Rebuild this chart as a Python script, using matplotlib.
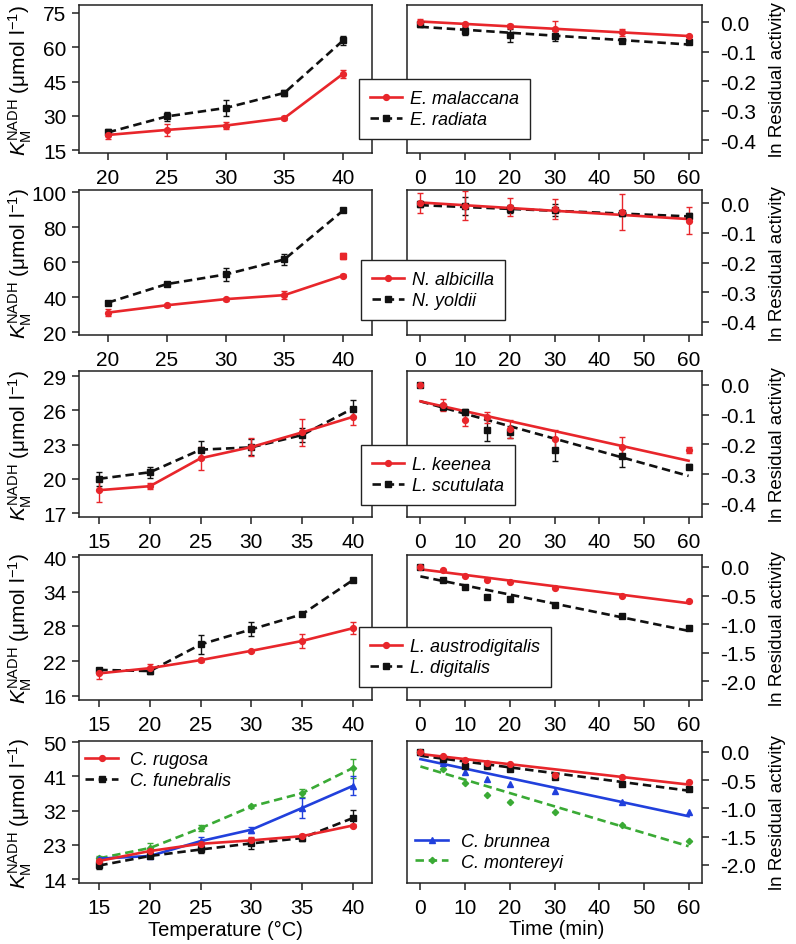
import numpy as np
import matplotlib
matplotlib.use("Agg")
import matplotlib.pyplot as plt
from matplotlib.lines import Line2D

plt.rcParams['font.family'] = ['Liberation Sans', 'DejaVu Sans']
plt.rcParams['mathtext.fontset'] = 'custom'
plt.rcParams['mathtext.rm'] = 'Liberation Sans'
plt.rcParams['mathtext.it'] = 'Liberation Sans:italic'
plt.rcParams['axes.unicode_minus'] = False

# ---------------- data ----------------
# Row 1: Echinolittorina
T1 = [20, 25, 30, 35, 40]
km_emal = [21.6, 23.8, 25.7, 29.0, 48.4]
km_emal_err = [1.8, 2.5, 1.5, 1.0, 1.8]
km_erad = [22.7, 29.7, 33.4, 40.0, 63.0]
km_erad_err = [1.5, 1.8, 3.5, 1.5, 1.8]
time1 = [0, 10, 20, 30, 45, 60]
ra_emal = [0.0, -0.007, -0.014, -0.025, -0.034, -0.047]
ra_emal_err = [0.012, 0.005, 0.006, 0.03, 0.012, 0.004]
ra_erad = [-0.008, -0.030, -0.045, -0.047, -0.063, -0.068]
ra_erad_err = [0.008, 0.015, 0.022, 0.018, 0.006, 0.006]
fit_emal = (0.002, -0.00082)   # intercept, slope
fit_erad = (-0.016, -0.00100)

# Row 2: Nerita
T2 = [20, 25, 30, 35, 40]
km_nalb = [31.1, 35.3, 38.8, 41.1, 52.3]
km_nalb_err = [2.0, 0.8, 0.8, 2.5, 0.8]
km_nalb_extra_T = [40]
km_nalb_extra = [63.4]
km_nalb_extra_err = [1.5]
km_nyol = [36.8, 47.4, 52.9, 61.5, 89.5]
km_nyol_err = [0.8, 1.2, 3.5, 3.0, 1.0]
time2 = [0, 10, 20, 30, 45, 60]
ra_nalb = [0.0, -0.009, -0.013, -0.020, -0.029, -0.059]
ra_nalb_err = [0.035, 0.048, 0.030, 0.033, 0.060, 0.045]
ra_nyol = [-0.003, -0.011, -0.020, -0.022, -0.035, -0.045]
ra_nyol_err = [0.010, 0.030, 0.015, 0.020, 0.010, 0.010]
fit_nalb = (0.002, -0.00093)
fit_nyol = (-0.007, -0.00063)

# Row 3: Lottia keenea / scutulata
T3 = [15, 20, 25, 30, 35, 40]
km_lkee = [19.0, 19.35, 21.8, 22.78, 24.06, 25.42]
km_lkee_err = [1.0, 0.25, 1.0, 0.8, 1.2, 0.7]
km_lscu = [20.0, 20.57, 22.55, 22.75, 23.83, 26.15]
km_lscu_err = [0.6, 0.5, 0.8, 0.7, 0.6, 0.75]
time3 = [0, 5, 10, 15, 20, 30, 45, 60]
ra_lkee = [0.0, -0.066, -0.117, -0.109, -0.148, -0.182, -0.210, -0.218]
ra_lkee_err = [0.005, 0.020, 0.020, 0.018, 0.030, 0.030, 0.035, 0.010]
ra_lscu = [0.0, -0.073, -0.090, -0.152, -0.157, -0.219, -0.240, -0.275]
ra_lscu_err = [0.005, 0.010, 0.010, 0.035, 0.020, 0.035, 0.035, 0.008]
fit_lkee = (-0.055, -0.00333)
fit_lscu = (-0.055, -0.00418)

# Row 4: Lottia austrodigitalis / digitalis
T4 = [15, 20, 25, 30, 35, 40]
km_laus = [19.9, 20.8, 22.2, 23.8, 25.5, 27.7]
km_laus_err = [1.0, 0.8, 0.4, 0.2, 1.2, 1.0]
km_ldig = [20.5, 20.3, 24.9, 27.5, 30.1, 36.0]
km_ldig_err = [0.3, 0.5, 1.6, 1.2, 0.2, 0.2]
time4 = [0, 5, 10, 15, 20, 30, 45, 60]
ra_laus = [0.0, -0.06, -0.165, -0.22, -0.26, -0.36, -0.50, -0.60]
ra_ldig = [0.0, -0.22, -0.35, -0.52, -0.56, -0.66, -0.85, -1.07]
fit_laus = (-0.04, -0.0099)
fit_ldig = (-0.165, -0.0159)

# Row 5: Chlorostoma
T5 = [15, 20, 25, 30, 35, 40]
km_crug = [18.8, 21.4, 23.3, 24.2, 25.3, 28.1]
km_crug_err = [0.5, 0.5, 0.8, 0.8, 0.5, 0.4]
km_cfun = [17.6, 20.1, 21.8, 23.4, 24.8, 30.05]
km_cfun_err = [1.0, 0.5, 1.0, 1.5, 0.8, 2.0]
km_cbru = [19.4, 20.1, 24.0, 27.0, 32.7, 38.5]
km_cbru_err = [0.5, 0.4, 1.0, 0.8, 2.5, 2.5]
km_cmon = [19.5, 22.2, 27.4, 33.1, 36.6, 43.2]
km_cmon_err = [0.5, 1.2, 0.8, 0.4, 1.0, 2.5]
time5 = [0, 5, 10, 15, 20, 30, 45, 60]
ra_crug = [0.0, -0.08, -0.14, -0.20, -0.21, -0.41, -0.45, -0.54]
ra_cfun = [0.0, -0.13, -0.25, -0.26, -0.31, -0.45, -0.57, -0.65]
ra_cbru = [0.0, -0.20, -0.365, -0.48, -0.57, -0.70, -0.88, -1.07]
ra_cmon = [0.0, -0.31, -0.56, -0.77, -0.89, -1.06, -1.29, -1.57]
fit_crug = (-0.04, -0.0090)
fit_cfun = (-0.07, -0.0103)
fit_cbru = (-0.13, -0.01683)
fit_cmon = (-0.26, -0.0235)

# ---------------- styles ----------------
RED = '#e8262b'
BLACK = '#111111'
BLUE = '#2140dc'
GREEN = '#3aaa35'
DASH = (0, (3.2, 1.8))
sty = {
    'red': dict(color=RED, ls='-', marker='o', ms=4.2),
    'black': dict(color=BLACK, ls=DASH, marker='s', ms=4.5),
    'blue': dict(color=BLUE, ls='-', marker='^', ms=4.5),
    'green': dict(color=GREEN, ls=DASH, marker='D', ms=3.2),
}
LW = 1.9

W, H = 796, 945
fig = plt.figure(figsize=(W / 100, H / 100), dpi=100)

rows_px = [(6, 154), (191, 336), (372, 518), (556, 701), (742, 884)]
LX = (79, 372)
RX = (407, 702)


def mk_ax(xr, yr):
    x0, x1 = xr
    t, b = yr
    return fig.add_axes([x0 / W, 1 - b / H, (x1 - x0) / W, (b - t) / H])


def style_ax(ax, right=False):
    for s in ax.spines.values():
        s.set_linewidth(1.1)
        s.set_color('#222222')
    ax.tick_params(axis='both', direction='out', length=5, width=1.1,
                   labelsize=15, colors='#222222', labelcolor='black')
    ax.tick_params(axis='x', pad=6)
    if right:
        ax.yaxis.tick_right()
        ax.tick_params(axis='y', pad=8)
    else:
        ax.tick_params(axis='y', pad=4)


def km_series(ax, x, y, err, key):
    s = sty[key]
    ax.errorbar(x, y, yerr=err, color=s['color'], ls=s['ls'], lw=LW,
                marker=s['marker'], ms=s['ms'], elinewidth=1.0, capsize=2.2,
                capthick=1.0)


def ra_series(ax, x, y, err, fit, key):
    s = sty[key]
    ax.errorbar(x, y, yerr=err, color=s['color'], ls='none',
                marker=s['marker'], ms=s['ms'], elinewidth=1.0, capsize=2.2,
                capthick=1.0)
    tf = np.array([x[0], x[-1]], dtype=float)
    ax.plot(tf, fit[0] + fit[1] * tf, color=s['color'], ls=s['ls'], lw=LW)


def handle(key):
    s = sty[key]
    return Line2D([], [], color=s['color'], ls=s['ls'], lw=LW,
                  marker=s['marker'], ms=s['ms'])


left_specs = [
    dict(T=T1, xlim=(17.55, 42.45), xt=T1, ylim=(13.7, 78.5), yt=[15, 30, 45, 60, 75]),
    dict(T=T2, xlim=(17.55, 42.45), xt=T2, ylim=(18.3, 101.2), yt=[20, 40, 60, 80, 100]),
    dict(T=T3, xlim=(13.0, 41.9), xt=T3, ylim=(16.65, 29.44), yt=[17, 20, 23, 26, 29]),
    dict(T=T4, xlim=(13.0, 41.9), xt=T4, ylim=(15.3, 40.35), yt=[16, 22, 28, 34, 40]),
    dict(T=T5, xlim=(13.0, 41.9), xt=T5, ylim=(13.0, 50.3), yt=[14, 23, 32, 41, 50]),
]
right_specs = [
    dict(ylim=(-0.444, 0.058), yt=[0.0, -0.1, -0.2, -0.3, -0.4], fmt='%.1f'),
    dict(ylim=(-0.444, 0.044), yt=[0.0, -0.1, -0.2, -0.3, -0.4], fmt='%.1f'),
    dict(ylim=(-0.444, 0.047), yt=[0.0, -0.1, -0.2, -0.3, -0.4], fmt='%.1f'),
    dict(ylim=(-2.33, 0.21), yt=[0.0, -0.5, -1.0, -1.5, -2.0], fmt='%.1f'),
    dict(ylim=(-2.32, 0.19), yt=[0.0, -0.5, -1.0, -1.5, -2.0], fmt='%.1f'),
]

left_axes, right_axes = [], []
for i in range(5):
    axl = mk_ax(LX, rows_px[i])
    axr = mk_ax(RX, rows_px[i])
    style_ax(axl)
    style_ax(axr, right=True)
    ls_ = left_specs[i]
    axl.set_xlim(*ls_['xlim'])
    axl.set_xticks(ls_['xt'])
    axl.set_ylim(*ls_['ylim'])
    axl.set_yticks(ls_['yt'])
    rs = right_specs[i]
    axr.set_xlim(-3, 63)
    axr.set_xticks([0, 10, 20, 30, 40, 50, 60])
    axr.set_ylim(*rs['ylim'])
    axr.set_yticks(rs['yt'])
    axr.set_yticklabels([rs['fmt'] % v for v in rs['yt']])
    left_axes.append(axl)
    right_axes.append(axr)

# Row 1
km_series(left_axes[0], T1, km_erad, km_erad_err, 'black')
km_series(left_axes[0], T1, km_emal, km_emal_err, 'red')
ra_series(right_axes[0], time1, ra_erad, ra_erad_err, fit_erad, 'black')
ra_series(right_axes[0], time1, ra_emal, ra_emal_err, fit_emal, 'red')

# Row 2
km_series(left_axes[1], T2, km_nyol, km_nyol_err, 'black')
km_series(left_axes[1], T2, km_nalb, km_nalb_err, 'red')
left_axes[1].errorbar(km_nalb_extra_T, km_nalb_extra, yerr=km_nalb_extra_err,
                      color=RED, ls='none', marker='s', ms=4.5,
                      elinewidth=1.0, capsize=2.2, capthick=1.0)
ra_series(right_axes[1], time2, ra_nyol, ra_nyol_err, fit_nyol, 'black')
ra_series(right_axes[1], time2, ra_nalb, ra_nalb_err, fit_nalb, 'red')

# Row 3
km_series(left_axes[2], T3, km_lscu, km_lscu_err, 'black')
km_series(left_axes[2], T3, km_lkee, km_lkee_err, 'red')
ra_series(right_axes[2], time3, ra_lscu, ra_lscu_err, fit_lscu, 'black')
ra_series(right_axes[2], time3, ra_lkee, ra_lkee_err, fit_lkee, 'red')

# Row 4
km_series(left_axes[3], T4, km_ldig, km_ldig_err, 'black')
km_series(left_axes[3], T4, km_laus, km_laus_err, 'red')
ra_series(right_axes[3], time4, ra_ldig, None, fit_ldig, 'black')
ra_series(right_axes[3], time4, ra_laus, None, fit_laus, 'red')

# Row 5
km_series(left_axes[4], T5, km_cmon, km_cmon_err, 'green')
km_series(left_axes[4], T5, km_cbru, km_cbru_err, 'blue')
km_series(left_axes[4], T5, km_cfun, km_cfun_err, 'black')
km_series(left_axes[4], T5, km_crug, km_crug_err, 'red')
ra_series(right_axes[4], time5, ra_cmon, None, fit_cmon, 'green')
ra_series(right_axes[4], time5, ra_cbru, None, fit_cbru, 'blue')
ra_series(right_axes[4], time5, ra_cfun, None, fit_cfun, 'black')
ra_series(right_axes[4], time5, ra_crug, None, fit_crug, 'red')

# Legends (boxed, straddling the two panels)
leg_specs = [
    (['E. malaccana', 'E. radiata'], (359, 80)),
    (['N. albicilla', 'N. yoldii'], (361, 261)),
    (['L. keenea', 'L. scutulata'], (361, 446)),
    (['L. austrodigitalis', 'L. digitalis'], (359, 628)),
]
for labels, (px, py) in leg_specs:
    leg = fig.legend([handle('red'), handle('black')], labels,
                     loc='upper left', bbox_to_anchor=(px / W, 1 - py / H),
                     frameon=True, fancybox=False, framealpha=1,
                     edgecolor='#222222', handlelength=1.8,
                     handletextpad=0.45, borderpad=0.6, labelspacing=0.25,
                     borderaxespad=0, prop={'style': 'italic', 'size': 13})
    leg.get_frame().set_linewidth(1.0)

fig.legend([handle('red'), handle('black')], ['C. rugosa', 'C. funebralis'],
           loc='upper left', bbox_to_anchor=(79 / W, 1 - 746 / H),
           frameon=False, handlelength=1.8, handletextpad=0.7,
           labelspacing=0.2, borderaxespad=0, borderpad=0.35,
           prop={'style': 'italic', 'size': 13})
fig.legend([handle('blue'), handle('green')], ['C. brunnea', 'C. montereyi'],
           loc='lower left', bbox_to_anchor=(409 / W, 1 - 878 / H),
           frameon=False, handlelength=1.8, handletextpad=0.75,
           labelspacing=0.2, borderaxespad=0, borderpad=0.35,
           prop={'style': 'italic', 'size': 13})

# Axis labels
ylab_left = r'$K_\mathrm{M}^\mathrm{NADH}$ (μmol l$^{-1}$)'
for i in range(5):
    t, b = rows_px[i]
    yc = 1 - ((t + b) / 2) / H
    fig.text(20 / W, yc, ylab_left, rotation=90, ha='center', va='center',
             fontsize=15)
    fig.text(778 / W, yc, 'ln Residual activity', rotation=90, ha='center',
             va='center', fontsize=13.5)

fig.text(225 / W, 1 - 930 / H, 'Temperature (°C)', ha='center', va='center',
         fontsize=14.5)
fig.text(557 / W, 1 - 930 / H, 'Time (min)', ha='center', va='center',
         fontsize=14.5)

fig.savefig('out.png', dpi=100)
